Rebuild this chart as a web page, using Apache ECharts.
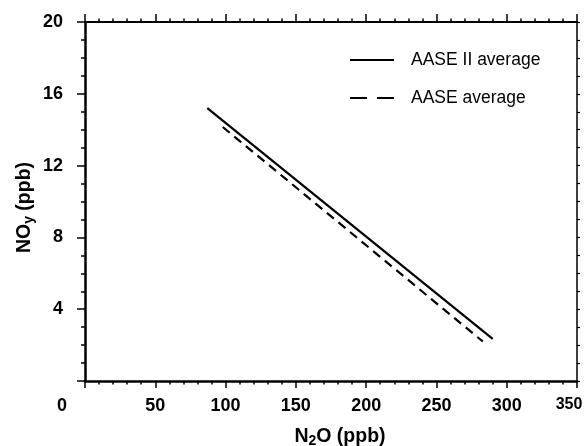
<!DOCTYPE html>
<html>
<head>
<meta charset="utf-8">
<script src="https://cdn.jsdelivr.net/npm/echarts@6/dist/echarts.min.js"></script>
<style>html,body{margin:0;padding:0;background:#fff;}#c{width:584px;height:446px;}</style>
</head>
<body>
<div id="c"></div>
<script>
// N2O (ppb) vs NOy (ppb) average lines
const seriesNames = ['AASE II average', 'AASE average'];
const aase2N2O = [87, 290];
const aase2NOy = [15.2, 2.35];
const aaseN2O = [98, 283];
const aaseNOy = [14.15, 2.2];
const xTicks = [0, 50, 100, 150, 200, 250, 300, 350];
const yTicks = [4, 8, 12, 16, 20];

const chart = echarts.init(document.getElementById('c'), null, {renderer: 'canvas'});
const FONT = '"Liberation Sans", Arial, Helvetica, sans-serif';
const pair = (xs, ys) => xs.map((x, i) => [x, ys[i]]);
const SOLID_ICON = 'path://M0,0h44v2.2h-44z';
const DASH_ICON = 'path://M0,0h17v2.2h-17z M27,0h17v2.2h-17z';

const axisCommon = {
  min: 0,
  splitLine: {show: false}
};
const lbl = {fontFamily: FONT, fontSize: 18, fontWeight: 'bold', color: '#000'};
const nameB = {fontFamily: FONT, fontSize: 19.5, fontWeight: 'bold', color: '#000'};
const nameS = {fontFamily: FONT, fontSize: 14, fontWeight: 'bold', color: '#000', verticalAlign: 'bottom', padding: [9, 0, 0, 0]};

chart.setOption({
  animation: false,
  backgroundColor: '#fff',
  grid: {left: 85, top: 22, width: 492, bottom: 65, containLabel: false, outerBoundsMode: 'none'},
  legend: {
    left: 345, top: 46, orient: 'vertical', itemGap: 20,
    itemWidth: 44, itemHeight: 16, symbolKeepAspect: true,
    textStyle: {fontFamily: FONT, fontSize: 17.5, color: '#000', padding: [3, 0, 0, 12]},
    data: [
      {name: seriesNames[0], icon: SOLID_ICON},
      {name: seriesNames[1], icon: DASH_ICON}
    ]
  },
  xAxis: [
    Object.assign({}, axisCommon, {
      type: 'value', position: 'bottom', max: 350, interval: 50,
      axisLine: {show: true, onZero: false, lineStyle: {color: '#000', width: 2.5}},
      axisTick: {show: true, inside: false, length: 7, lineStyle: {color: '#000', width: 1.5}},
      minorTick: {show: true, splitNumber: 5, length: 3.5, lineStyle: {color: '#000', width: 1.5}},
      axisLabel: Object.assign({}, lbl, {
        margin: 16,
        formatter: v => v === 0 ? '{z|0}' : (v === 350 ? '{m|350}' : String(v)),
        rich: {
          z: Object.assign({}, lbl, {padding: [0, 46, 0, 0]}),
          m: Object.assign({}, lbl, {fontSize: 16, padding: [0, 16, 0, 0]})
        }
      }),
      name: '{b|N}{s|2}{b|O (ppb)}', nameLocation: 'middle', nameGap: 44, nameMoveOverlap: false,
      nameTextStyle: {padding: [0, 0, 0, 18], rich: {b: nameB, s: nameS}}
    }),
    Object.assign({}, axisCommon, {
      type: 'value', position: 'top', max: 350, interval: 50,
      axisLine: {show: true, onZero: false, lineStyle: {color: '#000', width: 2}},
      axisTick: {show: true, inside: false, length: 8, lineStyle: {color: '#000', width: 1.5}},
      minorTick: {show: true, splitNumber: 5, length: 3.5, lineStyle: {color: '#000', width: 1.5}},
      axisLabel: {show: false}
    })
  ],
  yAxis: [
    Object.assign({}, axisCommon, {
      type: 'value', position: 'left', max: 20, interval: 4,
      axisLine: {show: true, onZero: false, lineStyle: {color: '#000', width: 2.5}},
      axisTick: {show: true, inside: false, length: 8, lineStyle: {color: '#000', width: 1.5}},
      minorTick: {show: true, splitNumber: 4, length: 4, lineStyle: {color: '#000', width: 1.5}},
      axisLabel: Object.assign({}, lbl, {
        margin: 22,
        formatter: v => yTicks.indexOf(v) >= 0 ? String(v) : ''
      }),
      name: '{b|NO}{s|y}{b| (ppb)}', nameLocation: 'middle', nameGap: 49, nameRotate: 90, nameMoveOverlap: false,
      nameTextStyle: {padding: [0, 12, 0, 0], rich: {b: nameB, s: nameS}}
    }),
    Object.assign({}, axisCommon, {
      type: 'value', position: 'right', max: 20, interval: 4,
      axisLine: {show: true, onZero: false, lineStyle: {color: '#000', width: 1.5}},
      axisTick: {show: true, inside: false, length: 3, lineStyle: {color: '#000', width: 1.2}},
      minorTick: {show: true, splitNumber: 4, length: 3, lineStyle: {color: '#000', width: 1.2}},
      axisLabel: {show: false}
    })
  ],
  series: [
    {
      name: seriesNames[0], type: 'line', xAxisIndex: 0, yAxisIndex: 0,
      data: pair(aase2N2O, aase2NOy), symbol: 'none', showSymbol: false,
      lineStyle: {color: '#000', width: 2.2, type: 'solid'}, itemStyle: {color: '#000'}
    },
    {
      name: seriesNames[1], type: 'line', xAxisIndex: 0, yAxisIndex: 0,
      data: pair(aaseN2O, aaseNOy), symbol: 'none', showSymbol: false,
      lineStyle: {color: '#000', width: 2.2, type: [9, 6]}, itemStyle: {color: '#000'}
    }
  ]
});
</script>
</body>
</html>
